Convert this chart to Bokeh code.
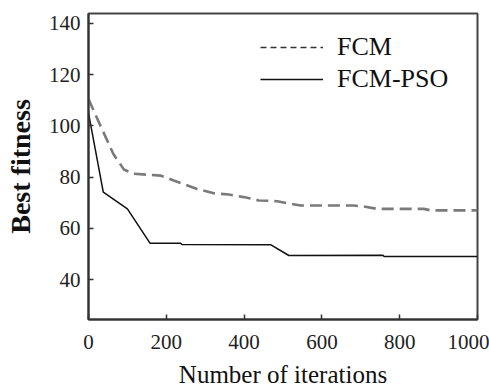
from bokeh.plotting import figure
from bokeh.models import Range1d, FixedTicker, Legend, LegendItem
from bokeh.embed import file_html
from bokeh.resources import INLINE

# Data
fcm_iter = [0, 25, 64, 91, 116, 185, 219, 279, 322, 361, 399, 438, 485, 519, 545, 682, 708, 742, 862, 880, 1000]
fcm_fit = [110.5, 102, 89, 83, 81.3, 80.6, 78.7, 75.4, 73.7, 73.2, 72.2, 70.9, 70.6, 69.6, 68.9, 68.9, 68.5, 67.6, 67.6, 67.0, 67.0]
pso_iter = [0, 38, 100, 158, 237, 240, 468, 515, 757, 760, 1000]
pso_fit = [105, 74.1, 67.6, 54.2, 54.2, 53.7, 53.6, 49.4, 49.5, 49.0, 49.0]
x_ticks = [0, 200, 400, 600, 800, 1000]
y_ticks = [40, 60, 80, 100, 120, 140]
series_names = ["FCM", "FCM-PSO"]

SERIF = "Liberation Serif"

p = figure(frame_width=389, frame_height=306, output_backend="svg", toolbar_location=None,
           x_range=Range1d(0, 1000), y_range=Range1d(24.4, 143.9),
           min_border_left=88, min_border_right=12, min_border_top=13, min_border_bottom=73)
p.background_fill_color = "white"
p.xgrid.visible = False
p.ygrid.visible = False
p.outline_line_color = "#444444"
p.outline_line_width = 2

r1 = p.line(fcm_iter, fcm_fit, line_color="#7a7a7a", line_width=2.6, line_dash="12 6")
r2 = p.line(pso_iter, pso_fit, line_color="#111111", line_width=1.5)

# legend proxies (legend style differs from plotted lines); hidden in the plot area
l1 = p.line(fcm_iter, fcm_fit, line_color="#333333", line_width=1.3, line_dash="6 4", visible=False)
l2 = p.line(pso_iter, pso_fit, line_color="#111111", line_width=1.5, visible=False)

legend = Legend(items=[LegendItem(label=series_names[0], renderers=[l1]),
                       LegendItem(label=series_names[1], renderers=[l2])],
                location=(172, 224), padding=0, margin=0, spacing=0,
                glyph_width=63, glyph_height=32, label_height=32, label_standoff=14,
                label_text_font=SERIF, label_text_font_size="26px", label_text_color="#111111",
                inactive_fill_alpha=0,
                border_line_alpha=0, background_fill_alpha=0)
p.add_layout(legend, "center")

xax = p.below[0]
yax = p.left[0]
for ax in (xax, yax):
    ax.axis_line_color = "#333333"
    ax.axis_line_width = 2
    ax.major_tick_in = 5
    ax.major_tick_out = 0
    ax.minor_tick_in = 0
    ax.minor_tick_out = 0
    ax.major_tick_line_color = "#333333"
    ax.major_tick_line_width = 1.5
    ax.major_label_text_font = SERIF
    ax.major_label_text_font_size = "21px"
    ax.major_label_text_color = "#222222"
    ax.axis_label_text_font = SERIF
    ax.axis_label_text_color = "#111111"

xax.ticker = FixedTicker(ticks=x_ticks)
yax.ticker = FixedTicker(ticks=y_ticks)
xax.major_label_standoff = 15
yax.major_label_standoff = 8
xax.axis_label = "Number of iterations"
xax.axis_label_text_font_size = "25px"
xax.axis_label_text_font_style = "normal"
xax.axis_label_standoff = 9
yax.axis_label = "Best fitness"
yax.axis_label_text_font_size = "28px"
yax.axis_label_text_font_style = "bold"
yax.axis_label_standoff = 10

out = open("out.html", "w")
out.write(file_html(p, INLINE))
out.close()
